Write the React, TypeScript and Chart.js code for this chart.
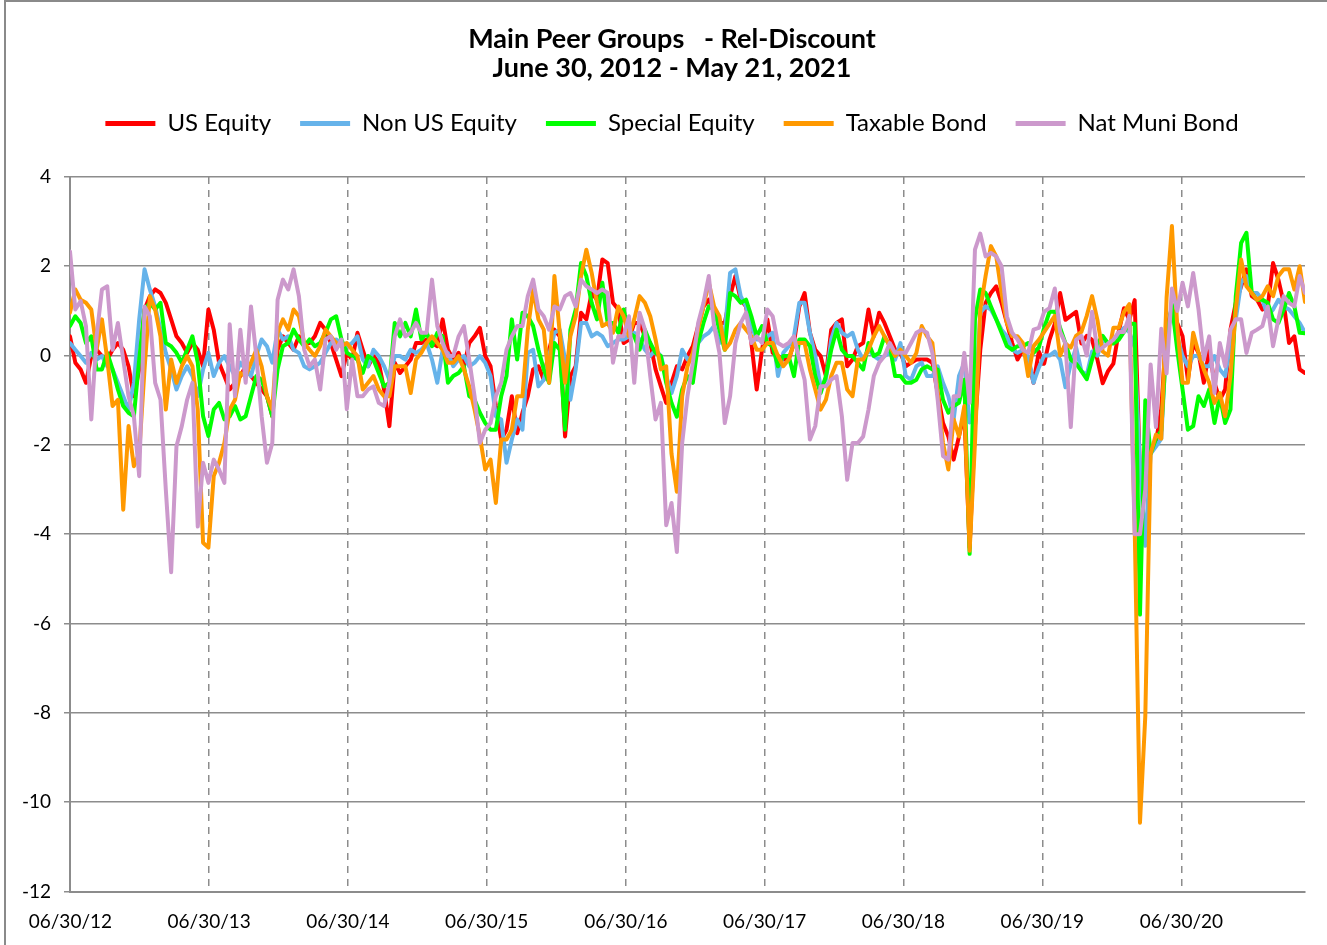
import React, { useEffect, useRef } from 'react';
import { Chart, registerables } from 'chart.js';

Chart.register(...registerables);

// ---- Data (bi-weekly observations, 2012-06-29 .. 2021-05-21) ----
const FIRST_DAY_OFFSET = -1; // first observation: 06/29/12, one day before 06/30/12
const STEP_DAYS = 14;
const LAST_DAY = 3247; // 05/21/21 in days after 06/30/12

const SERIES_NAMES = ['US Equity', 'Non US Equity', 'Special Equity', 'Taxable Bond', 'Nat Muni Bond'];
const SERIES_COLORS = ['#FF0000', '#66B3EA', '#00FF00', '#FF9900', '#CC99CC'];

const US_EQUITY = [
  0.43, -0.16, -0.31, -0.61, -0.01, 0.13, -0.01, -0.09, 0.13, 0.28, 0.13, -0.24, -0.91, -0.31, 1.03, 1.33, 1.48, 1.40, 1.18, 0.81, 0.43, 0.28, 0.06, 0.28, 0.13, -0.24,
  1.03, 0.58, -0.16, -0.46, -0.76, -0.61, -0.46, -0.24, -0.46, -0.61, -0.76, -0.91, -1.36, 0.13, 0.43, 0.28, 0.13, 0.43, 0.28, 0.28, 0.43, 0.73, 0.58, 0.28, -0.09, -0.46,
  0.06, -0.09, 0.51, 0.13, -0.24, -0.01, -0.16, -0.76, -1.58, -0.16, -0.39, -0.24, -0.09, 0.28, 0.28, 0.36, 0.28, 0.21, 0.81, 0.13, -0.09, 0.06, -0.24, 0.28, 0.43, 0.62,
  -0.01, -0.24, -1.13, -1.88, -1.66, -0.91, -1.74, -1.28, -0.91, -0.31, -0.24, -0.54, 0.13, 0.58, 0.43, -1.81, -0.46, -0.24, 0.96, 0.81, 1.40, 1.25, 2.15, 2.07, 1.18, 1.03,
  0.28, 0.36, 0.73, 0.73, 0.43, 0.28, -0.31, -0.69, -1.06, -0.61, -0.24, -0.31, -0.01, 0.21, 0.66, 1.10, 1.25, 1.03, 0.73, 0.73, 1.33, 1.78, 1.25, 1.10, 0.28, -0.76,
  0.13, 0.81, 0.06, -0.01, -0.09, -0.09, 0.28, 1.10, 1.40, 0.51, 0.13, -0.01, -0.46, 0.58, 0.73, 0.81, -0.24, -0.09, 0.21, 0.28, 1.03, 0.43, 0.96, 0.73, 0.43, 0.13,
  0.06, -0.24, -0.16, -0.09, -0.09, -0.09, -0.16, -0.84, -1.51, -1.81, -2.33, -1.81, -1.28, -4.30, -1.58, 0.13, 1.18, 1.40, 1.55, 1.18, 0.73, 0.28, -0.09, 0.13, -0.09, -0.61,
  0.09, -0.18, 0.35, 0.71, 1.40, 0.80, 0.89, 0.98, 0.27, 0.44, 0.35, -0.09, -0.62, -0.35, -0.18, 0.53, 1.06, 0.80, 1.24, -2.60, -3.00, -2.13, -1.95, -1.20, 0.62, 1.06,
  0.73, 0.43, -0.54, 0.28, 0.06, -0.61, 0.13, -0.61, -0.99, -0.76, 0.58, 1.18, 1.55, 1.93, 1.33, 1.25, 1.03, 1.10, 2.07, 1.70, 1.18, 0.28, 0.43, -0.31, -0.39,
];

const NON_US_EQUITY = [
  0.28, 0.13, -0.01, -0.16, 0.06, -0.09, -0.01, -0.24, -0.31, -0.61, -0.91, -1.21, -0.61, 0.81, 1.93, 1.48, 1.10, 0.58, 0.06, -0.31, -0.76, -0.46, -0.24, -0.46, -0.91, -0.31,
  0.06, -0.46, -0.16, -0.01, -0.24, -0.46, -0.16, -0.31, -0.46, -0.01, 0.36, 0.21, -0.16, 0.58, 0.36, 0.43, 0.13, 0.06, -0.24, -0.31, -0.24, -0.16, 0.06, 0.28, 0.36, 0.28,
  0.21, 0.28, 0.43, -0.09, -0.24, 0.13, -0.01, -0.24, -0.54, -0.01, -0.01, -0.09, 0.13, 0.06, 0.13, 0.28, -0.09, -0.61, 0.13, 0.06, -0.24, -0.09, -0.01, -0.24, -0.16, -0.01,
  -0.16, -0.46, -1.36, -1.43, -2.40, -1.88, -1.43, -1.66, 0.06, 0.13, -0.69, -0.54, -0.01, 0.51, 0.58, -0.09, -0.99, -0.31, 0.73, 0.73, 0.43, 0.51, 0.43, 0.21, 0.28, 0.36,
  0.36, 0.43, 0.51, 0.36, 0.13, -0.01, 0.13, -0.01, -0.46, -0.84, -0.46, 0.13, -0.09, -0.01, 0.28, 0.43, 0.51, 0.66, 0.28, 0.51, 1.85, 1.93, 1.33, 1.10, 0.66, 0.36,
  0.36, 0.43, 0.51, -0.46, 0.06, 0.21, 0.43, 1.18, 1.18, 0.51, -0.01, -0.69, -0.54, 0.36, 0.73, 0.51, 0.43, 0.51, 0.13, -0.09, 0.13, -0.01, -0.09, -0.01, 0.06, -0.09,
  0.28, -0.46, -0.54, -0.24, -0.16, -0.46, -0.46, -0.24, -0.61, -0.91, -1.43, -0.46, -0.16, -1.50, -1.21, 0.96, 1.10, 1.03, 0.81, 0.58, 0.43, 0.13, 0.06, 0.13, -0.01, -0.61,
  -0.27, 0.00, 0.00, 0.09, -0.09, -0.71, -0.18, 0.18, -0.35, -0.44, 0.09, 0.00, 0.35, 0.27, 0.35, 0.44, 0.62, 0.53, 0.18, -2.48, -4.26, -2.20, -2.04, -1.86, 0.44, 0.98,
  0.43, -0.01, -0.24, -0.01, -0.01, -0.24, -0.24, -0.01, -0.31, -0.46, 0.28, 0.81, 1.63, 1.78, 1.40, 1.40, 1.25, 0.88, 1.03, 1.25, 1.10, 1.03, 0.88, 0.73, 0.51,
];

const SPECIAL_EQUITY = [
  0.66, 0.88, 0.73, 0.28, 0.43, -0.31, -0.31, 0.06, -0.31, -0.76, -1.13, -1.28, -1.36, -0.09, 1.03, 1.18, 1.03, 1.18, 0.28, 0.21, 0.06, -0.16, 0.13, 0.43, -0.16, -1.36,
  -1.80, -1.21, -1.06, -1.43, -1.36, -1.13, -1.43, -1.36, -0.91, -0.46, -0.54, -0.91, -1.36, -0.31, 0.21, 0.28, 0.58, 0.36, 0.21, 0.36, 0.21, 0.28, 0.51, 0.81, 0.88, 0.36,
  0.06, -0.01, -0.09, -0.39, -0.01, -0.09, -0.39, -0.69, -0.61, 0.73, 0.43, 0.73, 0.43, 1.03, 0.36, 0.51, 0.21, 0.51, 0.43, -0.61, -0.46, -0.39, -0.24, -0.91, -0.99, -1.28,
  -1.51, -1.66, -1.66, -0.91, -0.46, 0.81, -0.09, 0.96, 0.88, 0.66, 0.13, -0.31, -0.61, 0.28, 0.13, -1.66, 0.58, 1.03, 2.07, 1.78, 1.18, 0.81, 1.63, 0.73, 0.73, 0.51,
  1.03, 0.51, 0.43, 0.13, 0.58, 0.28, 0.06, -0.01, -0.61, -1.06, -1.37, -0.76, -0.46, -0.61, 0.28, 0.73, 1.10, 1.03, 0.58, 0.13, 1.40, 1.33, 1.18, 1.25, 0.88, 0.43,
  0.66, 0.28, 0.21, -0.24, -0.01, -0.01, -0.46, 0.36, 0.36, 0.21, -0.46, -0.84, -0.46, 0.13, 0.58, 0.13, -0.01, -0.01, -0.16, -0.31, 0.28, -0.01, 0.06, 0.43, 0.21, -0.46,
  -0.46, -0.61, -0.61, -0.54, -0.31, -0.24, -0.31, -0.31, -0.99, -1.28, -1.13, -1.06, -0.54, -4.44, 0.81, 1.48, 1.40, 1.10, 0.81, 0.51, 0.21, 0.13, 0.21, 0.21, 0.28, 0.06,
  0.18, 0.62, 0.98, 0.98, 0.62, 0.27, -0.09, -0.18, -0.35, -0.53, -0.09, 0.27, 0.44, 0.27, 0.27, 0.35, 0.53, 0.71, 0.71, -5.80, -1.00, -2.20, -1.86, -1.68, 0.35, 1.15,
  0.13, -0.76, -1.66, -1.58, -0.91, -1.13, -0.76, -1.51, -0.91, -1.51, -1.21, 1.33, 2.52, 2.75, 1.40, 1.25, 1.25, 1.18, 0.81, 0.73, 1.03, 1.40, 1.10, 0.51, 0.50,
];

const TAXABLE_BOND = [
  0.96, 1.48, 1.25, 1.18, 1.03, 0.13, 0.81, -0.09, -1.13, -0.99, -3.45, -1.58, -2.48, -2.18, -0.31, 1.33, 1.03, 0.43, -1.21, -0.09, -0.61, -0.24, -0.01, -0.24, -1.21, -4.19,
  -4.30, -2.70, -2.40, -1.96, -1.21, -0.99, -0.39, -0.46, -0.16, 0.13, -0.24, -0.91, -1.21, 0.51, 0.81, 0.58, 1.03, 0.88, 0.28, 0.13, -0.01, 0.21, 0.58, 0.43, 0.28, 0.21,
  0.28, 0.13, -0.01, -0.76, -0.61, -0.46, -0.76, -0.91, -0.91, -0.24, -0.24, -0.24, -0.84, -0.09, 0.06, 0.28, 0.43, 0.28, 0.13, -0.16, -0.16, -0.01, -0.31, -0.69, -1.21, -1.81,
  -2.55, -2.33, -3.30, -1.88, -1.88, -1.66, -0.91, -0.91, 0.58, 1.48, 0.81, 0.58, -0.61, 1.78, 0.51, -0.61, 0.43, 0.88, 1.78, 2.37, 1.85, 1.18, 0.66, 0.73, 0.51, 1.10,
  0.88, 0.43, 0.81, 1.33, 1.18, 0.88, 0.36, -0.31, -0.24, -2.20, -3.05, -0.91, -0.24, 0.06, 0.58, 1.10, 1.63, 1.10, 0.88, 0.13, 0.28, 0.58, 0.73, 0.58, 0.43, 0.13,
  0.13, 0.28, 0.28, -0.01, -0.24, -0.09, 0.28, 0.28, 0.28, -0.31, -0.76, -1.21, -0.99, -0.46, -0.16, -0.16, -0.76, -0.91, -0.09, -0.09, 0.13, 0.43, 0.66, 0.43, 0.21, -0.01,
  0.13, -0.01, -0.16, 0.06, 0.66, 0.43, 0.28, -0.84, -1.96, -2.55, -1.43, -1.81, -1.13, -4.37, -1.96, 1.03, 1.78, 2.45, 2.22, 1.40, 0.73, 0.43, 0.43, 0.28, -0.46, 0.21,
  0.35, 0.53, 0.71, 0.89, 0.00, 0.27, 0.18, 0.44, 0.53, 0.89, 1.33, 0.80, 0.09, 0.00, 0.62, 0.62, 0.98, 1.15, -3.80, -10.46, -8.07, -2.20, -1.77, -1.86, 1.30, 2.90,
  0.66, -0.61, -0.61, 0.51, 0.06, -0.31, -0.61, -1.06, -0.84, -1.36, -0.46, 1.03, 2.15, 1.55, 1.40, 1.25, 1.33, 1.55, 1.33, 1.78, 1.93, 1.93, 1.48, 2.00, 1.20,
];

const NAT_MUNI_BOND = [
  2.33, 1.03, 1.22, 0.66, -1.43, 0.43, 1.48, 1.55, 0.13, 0.73, -0.09, -0.91, -1.36, -2.70, 1.10, 0.88, -0.61, -0.99, -3.00, -4.85, -2.03, -1.58, -0.99, -0.61, -3.83, -2.40,
  -2.85, -2.33, -2.55, -2.85, 0.70, -0.91, 0.58, -0.61, 1.10, -0.01, -1.36, -2.40, -1.96, 1.25, 1.70, 1.48, 1.93, 1.33, 0.13, -0.24, -0.09, -0.76, 0.36, 0.43, 0.13, 0.36,
  -1.20, -0.09, -0.91, -0.91, -0.76, -0.69, -1.06, -1.13, -0.61, 0.43, 0.81, 0.43, 0.51, 0.73, 0.51, 0.51, 1.70, 0.66, 0.28, -0.01, -0.01, 0.43, 0.66, -0.09, -0.91, -1.96,
  -1.66, -1.51, -0.91, -0.61, 0.13, 0.43, 0.66, 0.66, 1.33, 1.70, 1.03, 0.88, 0.58, 1.10, 1.03, 1.33, 1.40, 1.10, 1.70, 1.55, 1.48, 1.40, 1.48, 1.40, -0.16, 0.43,
  0.43, 0.88, -0.61, 0.96, 0.58, -0.46, -1.43, -1.06, -3.80, -3.30, -4.40, -1.96, -0.91, -0.16, 0.73, 1.18, 1.78, 0.66, 0.06, -1.51, -0.91, 0.28, 0.73, 0.96, 0.28, 0.43,
  0.28, 1.03, 0.88, 0.28, 0.21, 0.28, 0.43, -0.09, -0.54, -1.88, -1.58, -0.69, -0.69, -0.54, -0.46, -1.36, -2.78, -1.96, -1.96, -1.81, -1.21, -0.46, -0.16, -0.01, 0.28, 0.06,
  0.06, 0.06, 0.28, 0.51, 0.58, 0.51, 0.06, -0.99, -2.25, -2.33, -0.91, -0.91, 0.06, -1.06, 2.37, 2.73, 2.22, 2.30, 2.22, 2.00, 0.88, 0.51, 0.36, 0.13, 0.06, 0.58,
  0.62, 0.98, 1.06, 1.50, 0.53, 0.27, -1.60, 0.35, 0.44, 0.00, 0.98, 0.09, 0.18, 0.27, 0.35, 0.53, 0.53, 0.89, -4.00, -4.00, -3.00, -0.20, -1.60, 0.60, -0.40, 1.50,
  1.00, 1.63, 1.10, 1.85, 1.03, -0.09, 0.43, -0.84, 0.28, -0.24, 0.58, 0.81, 0.81, 0.06, 0.51, 0.58, 0.66, 1.10, 0.21, 0.81, 1.33, 1.18, 1.10, 1.78, 1.40,
];

const SERIES_VALUES = [US_EQUITY, NON_US_EQUITY, SPECIAL_EQUITY, TAXABLE_BOND, NAT_MUNI_BOND];

// x-axis ticks: days after 06/30/12 for each 06/30 anniversary
const X_TICK_DAYS = [0, 365, 730, 1095, 1461, 1826, 2191, 2556, 2922];
const X_TICK_LABELS = ['06/30/12', '06/30/13', '06/30/14', '06/30/15', '06/30/16', '06/30/17', '06/30/18', '06/30/19', '06/30/20'];

const Y_MIN = -12;
const Y_MAX = 4;
const Y_STEP = 2;

const TITLE_LINES = ['Main Peer Groups   - Rel-Discount', 'June 30, 2012 - May 21, 2021'];

const FONT = 'Lato, "Open Sans", sans-serif';
const GRID_COLOR = '#8c8c8c';

export default function App() {
  const canvasRef = useRef<HTMLCanvasElement | null>(null);

  useEffect(() => {
    if (!canvasRef.current) return;
    const datasets = SERIES_NAMES.map((name, s) => ({
      label: name,
      data: SERIES_VALUES[s].map((v, i) => ({ x: FIRST_DAY_OFFSET + STEP_DAYS * i, y: v })),
      borderColor: SERIES_COLORS[s],
      backgroundColor: SERIES_COLORS[s],
      borderWidth: 4,
      pointRadius: 0,
      tension: 0,
      borderJoinStyle: 'round' as const,
      borderCapStyle: 'round' as const,
      order: SERIES_NAMES.length - 1 - s,
      yAxisID: 'y',
    }));

    const chart = new Chart(canvasRef.current, {
      type: 'line',
      data: { datasets },
      options: {
        responsive: false,
        animation: false,
        devicePixelRatio: 1,
        layout: { padding: { left: 22, right: 5, top: 0, bottom: 0 } },
        plugins: {
          tooltip: { enabled: false },
          title: {
            display: true,
            text: TITLE_LINES,
            color: '#000',
            font: { family: FONT, size: 27, weight: 'bold', lineHeight: 1.074 },
            padding: { top: 24.5, bottom: 0 },
          },
          subtitle: {
            display: true,
            text: '',
            weight: 500,
            padding: 0,
            font: { size: 31.4, lineHeight: 1 },
          } as any,
          legend: {
            display: true,
            position: 'top',
            labels: {
              color: '#000',
              font: { family: FONT, size: 24 },
              boxWidth: 50,
              boxHeight: 5,
              padding: 29,
              generateLabels: (ch: any) =>
                ch.data.datasets.map((ds: any, i: number) => ({
                  text: ds.label,
                  fillStyle: ds.borderColor,
                  strokeStyle: ds.borderColor,
                  lineWidth: 0,
                  hidden: false,
                  datasetIndex: i,
                  fontColor: '#000',
                })),
            },
          },
        },
        scales: {
          x: {
            type: 'linear',
            min: FIRST_DAY_OFFSET,
            max: LAST_DAY,
            afterBuildTicks: (scale: any) => {
              scale.ticks = X_TICK_DAYS.map((v) => ({ value: v }));
            },
            afterFit: (scale: any) => {
              scale.height = 53.5;
            },
            ticks: {
              autoSkip: false,
              maxRotation: 0,
              minRotation: 0,
              padding: 19,
              color: '#000',
              font: { family: FONT, size: 19 },
              callback: (value: any) => {
                const k = X_TICK_DAYS.indexOf(Number(value));
                return k >= 0 ? X_TICK_LABELS[k] : '';
              },
            },
            grid: {
              drawTicks: false,
              lineWidth: 1.5,
              color: (ctx: any) => (ctx.index === 0 ? 'rgba(0,0,0,0)' : GRID_COLOR),
            },
            border: { display: true, color: GRID_COLOR, width: 2, dash: [7, 6] },
          },
          y: {
            type: 'linear',
            position: 'left',
            min: Y_MIN,
            max: Y_MAX,
            afterFit: (scale: any) => {
              scale.width = 48;
            },
            ticks: {
              stepSize: Y_STEP,
              padding: 13,
              color: '#000',
              font: { family: FONT, size: 19 },
            },
            grid: {
              drawTicks: true,
              tickLength: 6,
              lineWidth: 1.5,
              color: GRID_COLOR,
              tickColor: GRID_COLOR,
              tickWidth: 1.5,
            },
            border: { display: true, color: GRID_COLOR, width: 2 },
          },
          // empty right-hand spacer so the title/legend centre matches the original frame
          rightSpacer: {
            type: 'linear',
            position: 'right',
            display: true,
            afterFit: (scale: any) => {
              scale.width = 17;
            },
            ticks: { display: false },
            grid: { display: false, drawOnChartArea: false, drawTicks: false },
            border: { display: false },
          },
        },
      } as any,
    });
    return () => chart.destroy();
  }, []);

  return (
    <div
      style={{
        position: 'absolute',
        left: 0,
        top: 0,
        width: 1327,
        height: 945,
        overflow: 'hidden',
        background: '#fff',
      }}
    >
      <div
        style={{
          position: 'absolute',
          left: 4,
          top: 0,
          width: 1400,
          height: 1000,
          borderTop: '2px solid #8a8a8a',
          borderLeft: '2px solid #8a8a8a',
        }}
      />
      <canvas
        ref={canvasRef}
        width={1327}
        height={945}
        style={{ position: 'absolute', left: 0, top: 0, width: 1327, height: 945 }}
      />
    </div>
  );
}
